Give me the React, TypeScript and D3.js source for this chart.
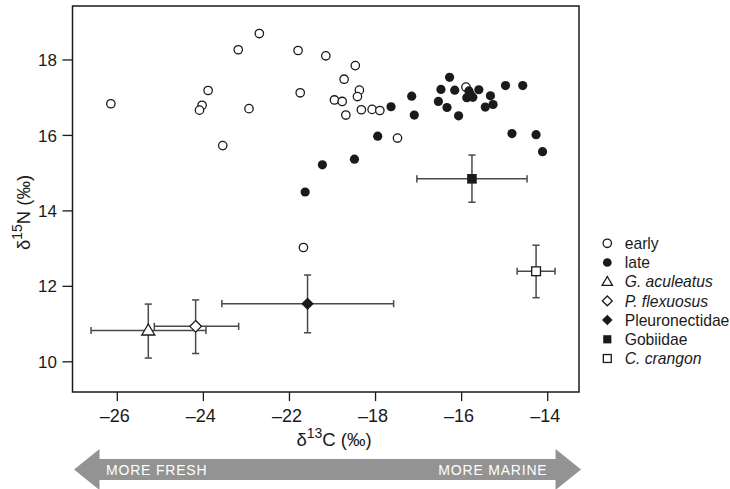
import React from "react";
import * as d3 from "d3";

// ---- data ----
const X_TICKS = [-26, -24, -22, -18, -16, -14];
const X_TICK_LABELS = ["\u201326", "\u201324", "\u201322", "\u201318", "\u201316", "\u201314"];
const Y_TICKS = [10, 12, 14, 16, 18];

const earlyX = [-26.15, -22.7, -23.19, -21.6, -23.89, -24.03, -24.09, -22.94, -21.5, -23.55, -21.35, -20.31,
  -18.94, -19.46, -18.75, -18.84, -19.91, -19.55, -19.38, -18.66, -18.16, -17.9, -17.49, -15.9];
const earlyY = [16.84, 18.7, 18.27, 18.25, 17.19, 16.8, 16.67, 16.71, 17.13, 15.73, 13.03, 18.11,
  17.85, 17.49, 17.2, 17.03, 16.94, 16.9, 16.54, 16.68, 16.69, 16.66, 15.93, 17.28];

const lateX = [-21.27, -20.47, -18.98, -17.95, -17.64, -17.16, -17.1, -16.28, -16.48, -16.16, -16.54, -16.34,
  -16.07, -15.83, -15.6, -15.88, -15.74, -15.33, -15.45, -15.27, -14.98, -14.58, -14.83, -14.27, -14.12, -15.8];
const lateY = [14.5, 15.22, 15.37, 15.98, 16.76, 17.04, 16.54, 17.54, 17.22, 17.2, 16.9, 16.74,
  16.52, 17.18, 17.21, 17.0, 17.01, 17.05, 16.75, 16.82, 17.32, 17.32, 16.05, 16.02, 15.57, 17.1];

const groupNames = ["G. aculeatus", "P. flexuosus", "Pleuronectidae", "Gobiidae", "C. crangon"];
const groupX = [-25.28, -24.18, -21.16, -15.76, -14.27];
const groupXLo = [-26.61, -25.14, -23.57, -17.04, -14.71];
const groupXHi = [-23.94, -23.18, -17.58, -14.48, -13.83];
const groupY = [10.83, 10.94, 11.54, 14.85, 12.4];
const groupYLo = [10.1, 10.22, 10.77, 14.23, 11.7];
const groupYHi = [11.53, 11.64, 12.3, 15.48, 13.09];

const legendNames = ["early", "late", "G. aculeatus", "P. flexuosus", "Pleuronectidae", "Gobiidae", "C. crangon"];
const legendItalic = [false, false, true, true, false, false, true];

// ---- styling ----
const FONT = "'Liberation Sans', Arial, Helvetica, sans-serif";
const INK = "#1a1a1a";
const groupShapes = ["triangle", "diamondOpen", "diamondFilled", "squareFilled", "squareOpen"];
const legendShapes = ["circleOpen", "circleFilled", ...groupShapes];
const legendScale = [1, 0.95, 0.8, 0.85, 0.85, 0.85, 0.9];

function Marker({ kind, cx, cy, s = 1 }: { kind: string; cx: number; cy: number; s?: number }) {
  const sw = 1.3;
  switch (kind) {
    case "circleOpen":
      return <circle cx={cx} cy={cy} r={4.2 * s} fill="#fff" stroke={INK} strokeWidth={sw} />;
    case "circleFilled":
      return <circle cx={cx} cy={cy} r={4.6 * s} fill={INK} />;
    case "triangle": {
      const hw = 6.5 * s, up = 6.5 * s, dn = 4.5 * s;
      return <path d={`M${cx},${cy - up}L${cx + hw},${cy + dn}L${cx - hw},${cy + dn}Z`} fill="#fff" stroke={INK} strokeWidth={sw} />;
    }
    case "diamondOpen": {
      const h = 5.8 * s;
      return <path d={`M${cx},${cy - h}L${cx + h},${cy}L${cx},${cy + h}L${cx - h},${cy}Z`} fill="#fff" stroke={INK} strokeWidth={sw} />;
    }
    case "diamondFilled": {
      const h = 6.2 * s;
      return <path d={`M${cx},${cy - h}L${cx + h},${cy}L${cx},${cy + h}L${cx - h},${cy}Z`} fill={INK} />;
    }
    case "squareFilled": {
      const h = 4.8 * s;
      return <rect x={cx - h} y={cy - h} width={2 * h} height={2 * h} fill={INK} />;
    }
    case "squareOpen": {
      const h = 4.4 * s;
      return <rect x={cx - h} y={cy - h} width={2 * h} height={2 * h} fill="#fff" stroke={INK} strokeWidth={sw} />;
    }
  }
  return null;
}

export default function App() {
  const W = 730, H = 489;
  const L = 72.5, R = 579, T = 6, B = 392;
  const tickX0 = 117.3, tickStep = 86.08;

  // tick labels are equally spaced as printed; polylinear scale follows them
  const x = d3.scaleLinear().domain(X_TICKS).range(X_TICKS.map((_, i) => tickX0 + i * tickStep));
  const y = d3.scaleLinear().domain([9.2, 19.43]).range([B, T]);

  const early = d3.zip(earlyX, earlyY);
  const late = d3.zip(lateX, lateY);
  const groups = groupNames.map((n, i) => ({
    n, x: groupX[i], xlo: groupXLo[i], xhi: groupXHi[i], y: groupY[i], ylo: groupYLo[i], yhi: groupYHi[i], shape: groupShapes[i],
  }));

  const cap = 3.6;
  const barColor = "#4a4a4a";

  // arrow geometry
  const ay = 469.5, tipL = 74, tipR = 581, headW = 25.5, headH = 20.5, bodyH = 10.5;
  const arrowPts: [number, number][] = [
    [tipL, ay], [tipL + headW, ay - headH], [tipL + headW, ay - bodyH], [tipR - headW, ay - bodyH],
    [tipR - headW, ay - headH], [tipR, ay], [tipR - headW, ay + headH], [tipR - headW, ay + bodyH],
    [tipL + headW, ay + bodyH], [tipL + headW, ay + headH],
  ];
  const arrowPath = d3.line()(arrowPts) + "Z";

  const legX = 607.3, legTX = 624.7, legY0 = 243.3, legDY = 19.2;

  return (
    <svg width={W} height={H} style={{ position: "absolute", left: 0, top: 0, display: "block", background: "#fff" }}
      fontFamily={FONT}>
      {/* frame */}
      <rect x={L} y={T} width={R - L} height={B - T} fill="none" stroke={INK} strokeWidth={1.5} />

      {/* y axis ticks */}
      {Y_TICKS.map((v) => (
        <g key={"yt" + v}>
          <line x1={L - 10} x2={L} y1={y(v)} y2={y(v)} stroke={INK} strokeWidth={1.3} />
          <text x={L - 15.5} y={y(v)} dy="0.36em" textAnchor="end" fontSize={17} fill={INK}>{v}</text>
        </g>
      ))}

      {/* x axis ticks */}
      {X_TICKS.map((v, i) => (
        <g key={"xt" + v}>
          <line x1={x(v)} x2={x(v)} y1={B} y2={B + 9} stroke={INK} strokeWidth={1.3} />
          <text x={x(v) - 2.5} y={422} textAnchor="middle" fontSize={18} fill={INK}>{X_TICK_LABELS[i]}</text>
        </g>
      ))}

      {/* axis titles */}
      <text x={334} y={445.5} textAnchor="middle" fontSize={18.5} fill={INK}>
        δ<tspan fontSize={14} dy={-7.5}>13</tspan><tspan dy={7.5}>C (‰)</tspan>
      </text>
      <text transform={`translate(29.5,212.5) rotate(-90)`} textAnchor="middle" fontSize={18.5} fill={INK}>
        δ<tspan fontSize={14} dy={-7.5}>15</tspan><tspan dy={7.5}>N (‰)</tspan>
      </text>

      {/* error bars */}
      {groups.map((g) => (
        <g key={"eb" + g.n} stroke={barColor} strokeWidth={1.5}>
          <line x1={x(g.xlo)} x2={x(g.xhi)} y1={y(g.y)} y2={y(g.y)} />
          <line x1={x(g.xlo)} x2={x(g.xlo)} y1={y(g.y) - cap} y2={y(g.y) + cap} />
          <line x1={x(g.xhi)} x2={x(g.xhi)} y1={y(g.y) - cap} y2={y(g.y) + cap} />
          <line x1={x(g.x)} x2={x(g.x)} y1={y(g.ylo)} y2={y(g.yhi)} />
          <line x1={x(g.x) - cap} x2={x(g.x) + cap} y1={y(g.ylo)} y2={y(g.ylo)} />
          <line x1={x(g.x) - cap} x2={x(g.x) + cap} y1={y(g.yhi)} y2={y(g.yhi)} />
        </g>
      ))}

      {/* points */}
      {early.map((d, i) => <Marker key={"e" + i} kind="circleOpen" cx={x(d[0])} cy={y(d[1])} />)}
      {late.map((d, i) => <Marker key={"l" + i} kind="circleFilled" cx={x(d[0])} cy={y(d[1])} />)}
      {groups.map((g) => <Marker key={"g" + g.n} kind={g.shape} cx={x(g.x)} cy={y(g.y)} />)}

      {/* legend */}
      {legendNames.map((n, i) => (
        <g key={"lg" + n}>
          <Marker kind={legendShapes[i]} cx={legX} cy={legY0 + i * legDY} s={legendScale[i]} />
          <text x={legTX} y={legY0 + i * legDY + 5.6} fontSize={15.7} fill={INK}
            fontStyle={legendItalic[i] ? "italic" : "normal"}>{n}</text>
        </g>
      ))}

      {/* gradient arrow */}
      <path d={arrowPath} fill="#939393" />
      <text x={106} y={474.5} fontSize={14} fill="#fff" letterSpacing={0.8}>MORE FRESH</text>
      <text x={547.5} y={474.5} fontSize={14} fill="#fff" letterSpacing={0.8} textAnchor="end">MORE MARINE</text>
    </svg>
  );
}
